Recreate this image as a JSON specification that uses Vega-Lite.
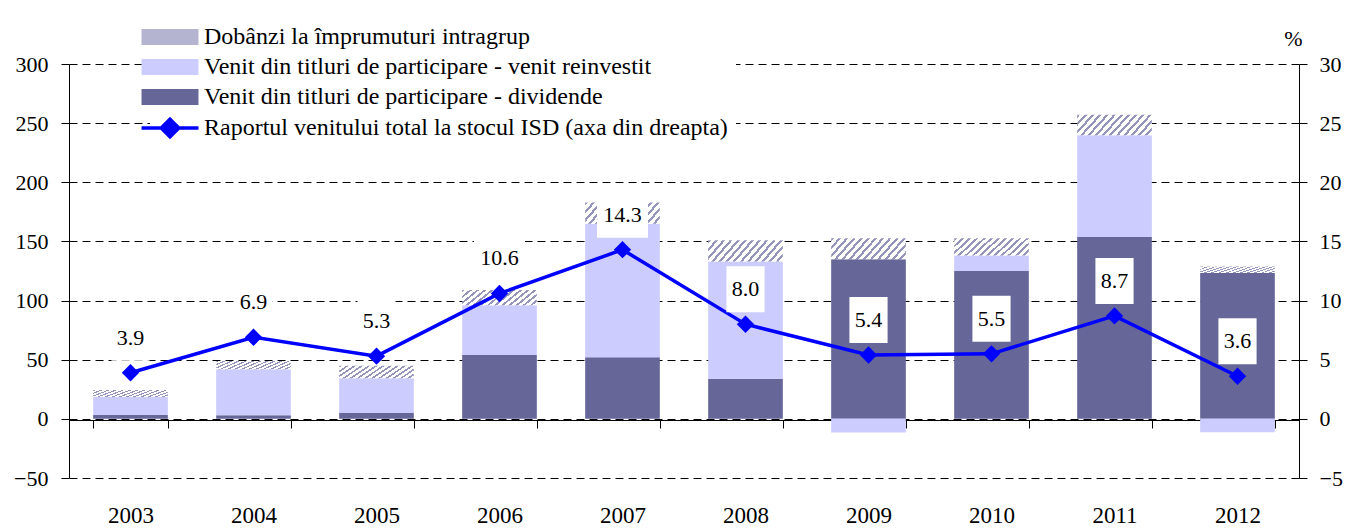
{
  "$schema": "https://vega.github.io/schema/vega-lite/v6.json",
  "width": 1230,
  "height": 414,
  "autosize": {"type": "none"},
  "padding": {"left": 69, "top": 64, "right": 47, "bottom": 53},
  "background": "white",
  "config": {
    "view": {"stroke": null},
    "font": "Liberation Serif, Times New Roman, serif",
    "axis": {"labelFont": "Liberation Serif, Times New Roman, serif", "labelFontSize": 22, "labelColor": "black", "domainColor": "black", "tickColor": "black", "titleFont": "Liberation Serif, Times New Roman, serif", "titleColor": "black"},
    "text": {"font": "Liberation Serif, Times New Roman, serif"}
  },
  "datasets": {
    "bars": [
      {"year": "2003", "series": "Venit din titluri de participare - dividende", "value": 3.4},
      {"year": "2003", "series": "Venit din titluri de participare - venit reinvestit", "value": 15},
      {"year": "2003", "series": "Dobânzi la împrumuturi intragrup", "value": 6},
      {"year": "2004", "series": "Venit din titluri de participare - dividende", "value": 3},
      {"year": "2004", "series": "Venit din titluri de participare - venit reinvestit", "value": 39},
      {"year": "2004", "series": "Dobânzi la împrumuturi intragrup", "value": 7},
      {"year": "2005", "series": "Venit din titluri de participare - dividende", "value": 5},
      {"year": "2005", "series": "Venit din titluri de participare - venit reinvestit", "value": 29.3},
      {"year": "2005", "series": "Dobânzi la împrumuturi intragrup", "value": 10.7},
      {"year": "2006", "series": "Venit din titluri de participare - dividende", "value": 54},
      {"year": "2006", "series": "Venit din titluri de participare - venit reinvestit", "value": 42},
      {"year": "2006", "series": "Dobânzi la împrumuturi intragrup", "value": 13},
      {"year": "2007", "series": "Venit din titluri de participare - dividende", "value": 52},
      {"year": "2007", "series": "Venit din titluri de participare - venit reinvestit", "value": 113},
      {"year": "2007", "series": "Dobânzi la împrumuturi intragrup", "value": 18},
      {"year": "2008", "series": "Venit din titluri de participare - dividende", "value": 34},
      {"year": "2008", "series": "Venit din titluri de participare - venit reinvestit", "value": 99},
      {"year": "2008", "series": "Dobânzi la împrumuturi intragrup", "value": 18},
      {"year": "2009", "series": "Venit din titluri de participare - dividende", "value": 135},
      {"year": "2009", "series": "Venit din titluri de participare - venit reinvestit", "value": -11.5},
      {"year": "2009", "series": "Dobânzi la împrumuturi intragrup", "value": 17.6},
      {"year": "2010", "series": "Venit din titluri de participare - dividende", "value": 125},
      {"year": "2010", "series": "Venit din titluri de participare - venit reinvestit", "value": 13},
      {"year": "2010", "series": "Dobânzi la împrumuturi intragrup", "value": 14.6},
      {"year": "2011", "series": "Venit din titluri de participare - dividende", "value": 153.7},
      {"year": "2011", "series": "Venit din titluri de participare - venit reinvestit", "value": 86},
      {"year": "2011", "series": "Dobânzi la împrumuturi intragrup", "value": 17.3},
      {"year": "2012", "series": "Venit din titluri de participare - dividende", "value": 123.4},
      {"year": "2012", "series": "Venit din titluri de participare - venit reinvestit", "value": -11.3},
      {"year": "2012", "series": "Dobânzi la împrumuturi intragrup", "value": 5.4}
    ],
    "ratio": [
      {"year": "2003", "ratio": 3.9},
      {"year": "2004", "ratio": 6.9},
      {"year": "2005", "ratio": 5.3},
      {"year": "2006", "ratio": 10.6},
      {"year": "2007", "ratio": 14.3},
      {"year": "2008", "ratio": 8.0},
      {"year": "2009", "ratio": 5.4},
      {"year": "2010", "ratio": 5.5},
      {"year": "2011", "ratio": 8.7},
      {"year": "2012", "ratio": 3.6}
    ]
  },
  "layer": [
    {
      "data": {"name": "bars"},
      "transform": [
        {"calculate": "indexof(['Venit din titluri de participare - dividende', 'Venit din titluri de participare - venit reinvestit', 'Dobânzi la împrumuturi intragrup'], datum.series)", "as": "ord"}
      ],
      "mark": {"type": "bar", "opacity": 1},
      "encoding": {
        "x": {
          "field": "year", "type": "nominal", "sort": null,
          "scale": {"paddingInner": 0.393, "paddingOuter": 0.1965},
          "axis": {"title": null, "orient": "bottom", "offset": -58, "domain": true, "domainWidth": 1, "domainColor": "black", "ticks": true, "tickBand": "extent", "tickSize": 8, "tickWidth": 1, "tickColor": "black", "labelPadding": 76, "labelAngle": 0, "grid": false, "labelFont": "Liberation Serif, Times New Roman, serif", "labelFontSize": 23, "labelColor": "black"}
        },
        "y": {
          "field": "value", "type": "quantitative", "stack": "zero",
          "scale": {"domain": [-50, 300], "nice": false, "zero": false},
          "axis": {"title": null, "orient": "left", "values": [-50, 0, 50, 100, 150, 200, 250, 300], "tickSize": 8, "labelPadding": 13, "domain": true, "domainColor": "black", "tickColor": "black", "grid": true, "gridColor": "black", "gridDash": [8, 5], "gridWidth": 1, "gridOpacity": 1, "labelFont": "Liberation Serif, Times New Roman, serif", "labelFontSize": 22, "labelColor": "black"}
        },
        "order": {"field": "ord", "type": "quantitative"},
        "color": {
          "condition": {
            "test": "datum.series === 'Dobânzi la împrumuturi intragrup'",
            "value": {"gradient": "linear", "x1": 0, "y1": 0, "x2": 1.176, "y2": 0.294, "stops": [
              {"offset": 0, "color": "#9595bc"}, {"offset": 0.0308, "color": "#9595bc"}, {"offset": 0.0308, "color": "#ffffff"}, {"offset": 0.0769, "color": "#ffffff"},
              {"offset": 0.0769, "color": "#9595bc"}, {"offset": 0.1077, "color": "#9595bc"}, {"offset": 0.1077, "color": "#ffffff"}, {"offset": 0.1538, "color": "#ffffff"},
              {"offset": 0.1538, "color": "#9595bc"}, {"offset": 0.1846, "color": "#9595bc"}, {"offset": 0.1846, "color": "#ffffff"}, {"offset": 0.2308, "color": "#ffffff"},
              {"offset": 0.2308, "color": "#9595bc"}, {"offset": 0.2615, "color": "#9595bc"}, {"offset": 0.2615, "color": "#ffffff"}, {"offset": 0.3077, "color": "#ffffff"},
              {"offset": 0.3077, "color": "#9595bc"}, {"offset": 0.3385, "color": "#9595bc"}, {"offset": 0.3385, "color": "#ffffff"}, {"offset": 0.3846, "color": "#ffffff"},
              {"offset": 0.3846, "color": "#9595bc"}, {"offset": 0.4154, "color": "#9595bc"}, {"offset": 0.4154, "color": "#ffffff"}, {"offset": 0.4615, "color": "#ffffff"},
              {"offset": 0.4615, "color": "#9595bc"}, {"offset": 0.4923, "color": "#9595bc"}, {"offset": 0.4923, "color": "#ffffff"}, {"offset": 0.5385, "color": "#ffffff"},
              {"offset": 0.5385, "color": "#9595bc"}, {"offset": 0.5692, "color": "#9595bc"}, {"offset": 0.5692, "color": "#ffffff"}, {"offset": 0.6154, "color": "#ffffff"},
              {"offset": 0.6154, "color": "#9595bc"}, {"offset": 0.6462, "color": "#9595bc"}, {"offset": 0.6462, "color": "#ffffff"}, {"offset": 0.6923, "color": "#ffffff"},
              {"offset": 0.6923, "color": "#9595bc"}, {"offset": 0.7231, "color": "#9595bc"}, {"offset": 0.7231, "color": "#ffffff"}, {"offset": 0.7692, "color": "#ffffff"},
              {"offset": 0.7692, "color": "#9595bc"}, {"offset": 0.8, "color": "#9595bc"}, {"offset": 0.8, "color": "#ffffff"}, {"offset": 0.8462, "color": "#ffffff"},
              {"offset": 0.8462, "color": "#9595bc"}, {"offset": 0.8769, "color": "#9595bc"}, {"offset": 0.8769, "color": "#ffffff"}, {"offset": 0.9231, "color": "#ffffff"},
              {"offset": 0.9231, "color": "#9595bc"}, {"offset": 0.9538, "color": "#9595bc"}, {"offset": 0.9538, "color": "#ffffff"}, {"offset": 1, "color": "#ffffff"}
            ]}
          },
          "field": "series", "type": "nominal",
          "scale": {
            "domain": ["Dobânzi la împrumuturi intragrup", "Venit din titluri de participare - venit reinvestit", "Venit din titluri de participare - dividende", "Raportul venitului total la stocul ISD (axa din dreapta)"],
            "range": ["#b4b4d0", "#ccccff", "#666699", "#0000ff"]
          },
          "legend": {
            "orient": "none", "legendX": 81, "legendY": -47, "title": null,
            "labelFont": "Liberation Serif, Times New Roman, serif", "labelFontSize": 24, "labelLimit": 800, "labelColor": "black",
            "symbolSize": 256, "symbolType": "square", "rowPadding": 0, "padding": 8, "fillColor": "white",
            "labelOffset": 22, "symbolStrokeWidth": 0, "symbolOpacity": 1,
            "encode": {
              "symbols": {
                "update": {
                  "shape": {"signal": "datum.value === 'Raportul venitului total la stocul ISD (axa din dreapta)' ? 'M-3.56,0H3.56M0,-1.1L1.1,0L0,1.1L-1.1,0Z' : 'M-3.56,-1H3.56V1H-3.56Z'"},
                  "stroke": {"signal": "datum.value === 'Raportul venitului total la stocul ISD (axa din dreapta)' ? '#0000ff' : 'transparent'"},
                  "strokeWidth": {"value": 3.5},
                  "opacity": {"value": 1}
                }
              }
            }
          }
        }
      }
    },
    {
      "data": {"name": "ratio"},
      "encoding": {
        "x": {"field": "year", "type": "nominal", "sort": null},
        "y": {
          "field": "ratio", "type": "quantitative",
          "scale": {"domain": [-5, 30], "nice": false, "zero": false},
          "axis": {"orient": "right", "values": [-5, 0, 5, 10, 15, 20, 25, 30], "tickSize": 8, "labelPadding": 12, "domain": true, "domainColor": "black", "tickColor": "black", "grid": false,
            "labelFont": "Liberation Serif, Times New Roman, serif", "labelFontSize": 22, "labelColor": "black",
            "title": "%", "titleFont": "Liberation Serif, Times New Roman, serif", "titleAngle": 0, "titleX": -6, "titleY": -26, "titleAlign": "center", "titleBaseline": "middle", "titleFontSize": 22, "titleFontWeight": "normal", "titleColor": "black"}
        }
      },
      "layer": [
        {"mark": {"type": "line", "color": "#0000ff", "strokeWidth": 3.5}, "encoding": {}},
        {"mark": {"type": "point", "shape": "diamond", "filled": true, "size": 300, "color": "#0000ff", "opacity": 1}, "encoding": {}},
        {
          "mark": {"type": "point", "filled": true, "color": "white", "opacity": 1, "yOffset": -35, "size": 2116, "strokeWidth": 0},
          "encoding": {"shape": {"condition": {"test": "datum.ratio >= 10", "value": "M-1.11,-1H1.11V1H-1.11Z"}, "value": "M-0.83,-1H0.83V1H-0.83Z"}}
        },
        {
          "mark": {"type": "text", "dy": -35, "fontSize": 22, "font": "Liberation Serif, Times New Roman, serif", "baseline": "middle", "align": "center", "color": "black"},
          "encoding": {"text": {"field": "ratio", "type": "quantitative", "format": ".1f"}}
        }
      ]
    }
  ],
  "resolve": {"scale": {"y": "independent"}}
}
